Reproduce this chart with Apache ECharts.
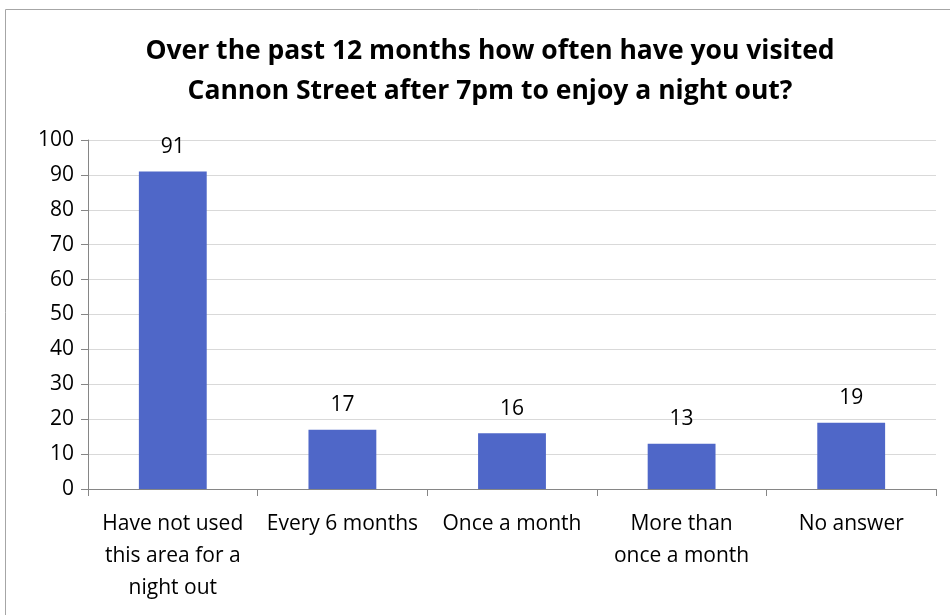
<!DOCTYPE html>
<html>
<head>
<meta charset="utf-8">
<script src="https://cdn.jsdelivr.net/npm/echarts@6/dist/echarts.min.js"></script>
<style>
html, body { margin: 0; padding: 0; background: #fff; }
#main { width: 950px; height: 615px; }
</style>
</head>
<body>
<div id="main"></div>
<script>
var categories = [
	'Have not used\nthis area for a\nnight out',
	'Every 6 months',
	'Once a month',
	'More than\nonce a month',
	'No answer'
];
var counts = [91, 17, 16, 13, 19];
var yTicks = { min: 0, max: 100, interval: 10 };

var myChart = echarts.init(document.getElementById('main'));

var font = "'Open Sans', 'Noto Sans', sans-serif";

myChart.setOption({
	textStyle: { fontFamily: font },
	title: {
		text: 'Over the past 12 months how often have you visited\nCannon Street after 7pm to enjoy a night out?',
		left: 485,
		top: 26,
		textAlign: 'center',
		textStyle: {
			fontFamily: font,
			fontSize: 26.5,
			fontWeight: 'bold',
			color: '#000',
			lineHeight: 40
		}
	},
	graphic: [{
		type: 'rect',
		shape: { x: 5.5, y: 9.5, width: 960, height: 620 },
		style: { fill: 'none', stroke: '#a6a6a6', lineWidth: 1 },
		silent: true
	}],
	grid: { left: 88, right: 14, top: 140, bottom: 126 },
	xAxis: {
		type: 'category',
		data: categories,
		axisLine: { lineStyle: { color: '#868686' } },
		axisTick: { show: true, length: 7, alignWithLabel: false, lineStyle: { color: '#868686' } },
		axisLabel: {
			interval: 0,
			color: '#000',
			fontFamily: font,
			fontSize: 21,
			lineHeight: 32,
			margin: 19
		}
	},
	yAxis: {
		type: 'value',
		min: yTicks.min,
		max: yTicks.max,
		interval: yTicks.interval,
		axisLine: { show: true, lineStyle: { color: '#868686' } },
		axisTick: { show: true, length: 7, lineStyle: { color: '#868686' } },
		splitLine: { lineStyle: { color: '#d9d9d9' } },
		axisLabel: { color: '#000', fontFamily: font, fontSize: 21, margin: 14 }
	},
	series: [{
		type: 'bar',
		data: counts,
		barWidth: '40%',
		itemStyle: { color: '#4f67c8' },
		label: {
			show: true,
			position: 'top',
			distance: 14,
			color: '#000',
			fontFamily: font,
			fontSize: 21
		}
	}]
});
</script>
</body>
</html>
